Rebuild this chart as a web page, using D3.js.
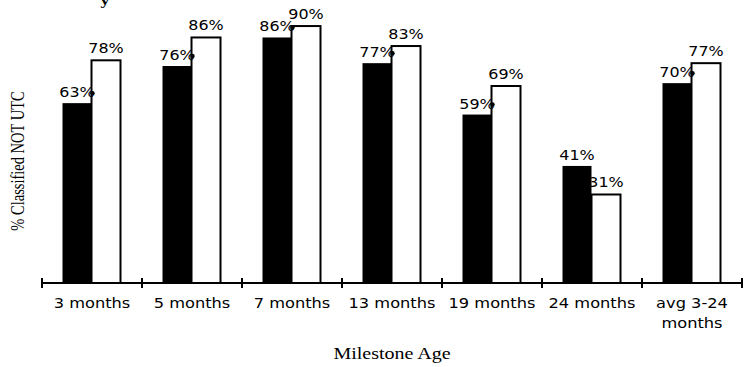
<!DOCTYPE html>
<html>
<head>
<meta charset="utf-8">
<script src="https://cdn.jsdelivr.net/npm/d3@7/dist/d3.min.js"></script>
<style>
  html, body { margin: 0; padding: 0; background: #fff; }
  svg { display: block; }
</style>
</head>
<body>
<svg id="chart" width="748" height="367"></svg>
<script>
// Milestone groups, with the lines of each axis label
const categories = ["3 months", "5 months", "7 months", "13 months", "19 months", "24 months", "avg 3-24 months"];
const tickLabels = [["3 months"], ["5 months"], ["7 months"], ["13 months"], ["19 months"], ["24 months"], ["avg 3-24", "months"]];
// Percent classified NOT UTC, two series per milestone
const seriesKeys = ["filled", "open"];
const filledValues = [63, 76, 86, 77, 59, 41, 70];
const openValues = [78, 86, 90, 83, 69, 31, 77];
const yTitle = "% Classified NOT UTC";
const xTitle = "Milestone Age";

const svg = d3.select("#chart");
const baseY = 283;

const x0 = d3.scaleBand().domain(categories).range([42, 742]).padding(0);
const x1 = d3.scaleBand().domain(seriesKeys).range([20.5, 78.5]).padding(0);
const y = d3.scaleLinear().domain([0, 100]).range([baseY, -2.5]);

const rows = categories.map((c, i) => ({ cat: c, filled: filledValues[i], open: openValues[i], lines: tickLabels[i] }));

const sansFont = "'DejaVu Sans', Verdana, sans-serif";
const serifFont = "'Liberation Serif', 'Times New Roman', serif";

// title fragment running off the top edge
svg.append("text")
  .attr("transform", "translate(105,5) scale(1.2,1)")
  .attr("text-anchor", "middle")
  .style("font-family", serifFont)
  .style("font-weight", "bold")
  .style("font-size", "15px")
  .text("y");

const groups = svg.selectAll("g.grp").data(rows).join("g")
  .attr("class", "grp")
  .attr("transform", d => `translate(${x0(d.cat)},0)`);

// open bars and their labels first, so the filled bars sit on top
groups.append("rect")
  .attr("x", x1("open"))
  .attr("width", x1.bandwidth())
  .attr("y", d => y(d.open))
  .attr("height", d => baseY - y(d.open))
  .attr("fill", "#fff")
  .attr("stroke", "#000")
  .attr("stroke-width", 2);

groups.append("text")
  .attr("transform", d => `translate(${x1("open") + x1.bandwidth() / 2},${y(d.open) - 7}) scale(1.1,1)`)
  .attr("text-anchor", "middle")
  .style("font-family", sansFont)
  .style("font-size", "14.5px")
  .text(d => d.open + "%");

groups.append("rect")
  .attr("x", x1("filled"))
  .attr("width", x1.bandwidth())
  .attr("y", d => y(d.filled))
  .attr("height", d => baseY - y(d.filled))
  .attr("fill", "#000");

groups.append("text")
  .attr("transform", d => `translate(${x1("filled") + x1.bandwidth() / 2},${y(d.filled) - 6}) scale(1.1,1)`)
  .attr("text-anchor", "middle")
  .style("font-family", sansFont)
  .style("font-size", "14.5px")
  .text(d => d.filled + "%");

// marker where the filled label meets the taller open bar
groups.filter(d => d.filled < d.open).append("circle")
  .attr("cx", x1("open") + 1)
  .attr("cy", d => y(d.filled) - 10)
  .attr("r", 2.2)
  .attr("fill", "#000");

// category axis with crossing ticks at group boundaries
const boundaries = categories.map(c => x0(c)).concat([x0.range()[1]]);
svg.append("line")
  .attr("x1", x0.range()[0]).attr("x2", x0.range()[1])
  .attr("y1", baseY).attr("y2", baseY)
  .attr("stroke", "#000").attr("stroke-width", 2);
svg.selectAll("line.tick").data(boundaries).join("line")
  .attr("class", "tick")
  .attr("x1", d => d).attr("x2", d => d)
  .attr("y1", baseY - 5).attr("y2", baseY + 5)
  .attr("stroke", "#000").attr("stroke-width", 2);

const labels = svg.selectAll("text.xlab").data(rows).join("text")
  .attr("class", "xlab")
  .attr("transform", d => `translate(${x0(d.cat) + x0.bandwidth() / 2},308) scale(1.12,1)`)
  .attr("text-anchor", "middle")
  .style("font-family", sansFont)
  .style("font-size", "14.5px");
labels.selectAll("tspan").data(d => d.lines).join("tspan")
  .attr("x", 0)
  .attr("dy", (d, i) => i === 0 ? 0 : 20)
  .text(d => d);

// axis titles
svg.append("text")
  .attr("transform", "translate(392,359) scale(1.25,1)")
  .attr("text-anchor", "middle")
  .style("font-family", serifFont)
  .style("font-size", "16px")
  .text(xTitle);

svg.append("text")
  .attr("transform", "translate(24,161) rotate(-90) scale(1,1.3)")
  .attr("text-anchor", "middle")
  .style("font-family", serifFont)
  .style("font-size", "14.5px")
  .text(yTitle);
</script>
</body>
</html>
